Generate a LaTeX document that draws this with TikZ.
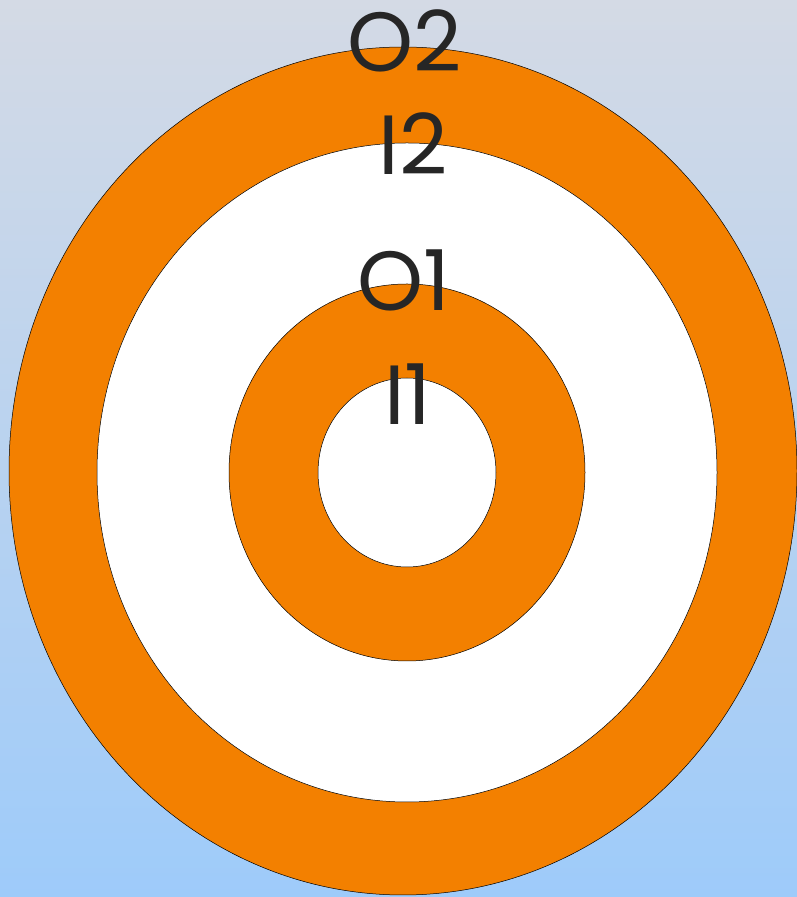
\documentclass[tikz,border=0pt]{standalone}
\usepackage{fontspec}
\newfontfamily\labfont{Poppins}
\definecolor{ring}{HTML}{F38000}
\definecolor{bgtop}{HTML}{D4DAE5}
\definecolor{bgbot}{HTML}{9ECBFA}
\begin{document}
\begin{tikzpicture}[x=1pt,y=1pt,
  ringfill/.style={fill=ring,draw=black,line width=0.5pt},
  holefill/.style={fill=white,draw=black,line width=0.5pt},
  lab/.style={font=\labfont\fontsize{84}{84}\selectfont,text=black!85,anchor=base,inner sep=0pt}]
\useasboundingbox (0,0) rectangle (797,897);
\shade[top color=bgtop,bottom color=bgbot] (0,0) rectangle (797,897);
\begin{scope}
\clip (0,0) rectangle (797,897);
\draw[ringfill] (403,426) ellipse [x radius=394,y radius=424];
\draw[holefill] (407,424.5) ellipse [x radius=310,y radius=329.5];
\draw[ringfill] (407,424.5) ellipse [x radius=178,y radius=188.5];
\draw[holefill] (407,424.5) ellipse [x radius=89,y radius=94.5];
\end{scope}
\node[lab] (o2) at (405,825) {O2};
\node[lab] (i2) at (413,722) {I2};
\node[lab] (o1) at (404,586) {O1};
\node[lab] (i1) at (408,472) {I1};
\end{tikzpicture}
\end{document}
